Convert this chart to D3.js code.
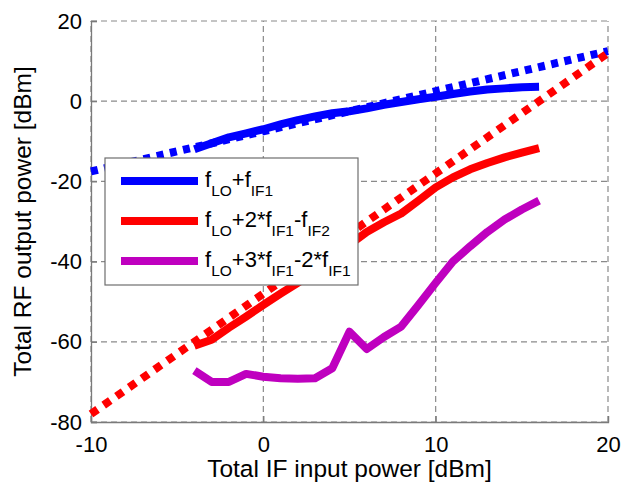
<!DOCTYPE html>
<html>
<head>
<meta charset="utf-8">
<script src="https://cdn.jsdelivr.net/npm/d3@7"></script>
<style>
  html, body { margin: 0; padding: 0; background: #fff; }
  svg { display: block; }
  text { font-family: "Liberation Sans", Arial, Helvetica, sans-serif; fill: #000; }
</style>
</head>
<body>
<svg id="chart" width="624" height="492"></svg>
<script>
// ---- data ----
const xTicks = [-10, 0, 10, 20];
const yTicks = [-80, -60, -40, -20, 0, 20];

const inputPower = [-4, -3, -2, -1, 0, 1, 2, 3, 4, 5, 6, 7, 8, 9, 10, 11, 12, 13, 14, 15, 16];
const fundamental = [-12, -10.5, -9, -8, -7, -5.8, -4.7, -3.8, -3, -2.5, -1.8, -0.9, -0.2, 0.5, 1.1, 1.8, 2.4, 2.9, 3.2, 3.5, 3.6];
const imd3 = [-61, -59.5, -56.5, -53.7, -50.8, -48, -45.3, -42.5, -39.3, -35.8, -32.6, -30.2, -28, -24.8, -21.5, -19, -17, -15.4, -14, -12.8, -11.7];
const imd5 = [-67.2, -70, -70, -68, -68.7, -69.1, -69.2, -69.1, -66.6, -57.5, -61.8, -58.8, -56.2, -50.8, -45.3, -40, -36.2, -32.6, -29.5, -27, -24.8];

const fitX = [-10, 20];
const fundamentalFit = [-17.5, 12.5];
const imd3Fit = [-78, 12];

const seriesNames = [
  [["f", ""], ["LO", "sub"], ["+f", ""], ["IF1", "sub"]],
  [["f", ""], ["LO", "sub"], ["+2*f", ""], ["IF1", "sub"], ["-f", ""], ["IF2", "sub"]],
  [["f", ""], ["LO", "sub"], ["+3*f", ""], ["IF1", "sub"], ["-2*f", ""], ["IF1", "sub"]]
];
const colors = ["#0000ff", "#ff0000", "#bf00bf"];

const xLabel = "Total IF input power [dBm]";
const yLabel = "Total RF output power [dBm]";

// ---- layout ----
const svg = d3.select("#chart");
const L = 91, R = 608, T = 21, B = 422;
const x = d3.scaleLinear().domain([-10, 20]).range([L, R]);
const y = d3.scaleLinear().domain([-80, 20]).range([B, T]);

// grid
const grid = svg.append("g").attr("stroke", "#8a8a8a").attr("stroke-width", 1.2)
  .attr("stroke-dasharray", "6,4").attr("fill", "none");
xTicks.forEach(t => grid.append("line").attr("x1", x(t)).attr("x2", x(t)).attr("y1", B).attr("y2", T));
yTicks.forEach(t => grid.append("line").attr("x1", L).attr("x2", R).attr("y1", y(t)).attr("y2", y(t)));

// axes (left & bottom), inward ticks
const fmt = d => String(d);
const xAxis = d3.axisBottom(x).tickValues(xTicks).tickSize(-6).tickPadding(14).tickFormat(fmt);
const yAxis = d3.axisLeft(y).tickValues(yTicks).tickSize(-6).tickPadding(9).tickFormat(fmt);
const gx = svg.append("g").attr("transform", `translate(0,${B})`).call(xAxis);
const gy = svg.append("g").attr("transform", `translate(${L},0)`).call(yAxis);
[gx, gy].forEach(g => {
  g.select(".domain").attr("stroke", "#7a7a7a").attr("stroke-width", 1.3);
  g.selectAll(".tick line").attr("stroke", "#7a7a7a").attr("stroke-width", 1.2);
  g.selectAll(".tick text").attr("font-size", 22).attr("font-family", "Liberation Sans, Arial, sans-serif").attr("fill", "#000");
});
gx.selectAll(".tick text").attr("dy", "0.71em");

// lines
const line = d3.line().x(d => x(d[0])).y(d => y(d[1]));
const plot = svg.append("g");
function drawSeries(xs, ys, color, dash) {
  plot.append("path")
    .datum(xs.map((v, i) => [v, ys[i]]))
    .attr("d", line)
    .attr("fill", "none")
    .attr("stroke", color)
    .attr("stroke-width", 8)
    .attr("stroke-linejoin", "round")
    .attr("stroke-dasharray", dash || null);
}
drawSeries(fitX, fundamentalFit, colors[0], "7,6.5");
drawSeries(fitX, imd3Fit, colors[1], "8,7.5");
drawSeries(inputPower, fundamental, colors[0]);
drawSeries(inputPower, imd3, colors[1]);
drawSeries(inputPower, imd5, colors[2]);

// legend
const lg = svg.append("g");
lg.append("rect").attr("x", 105).attr("y", 158).attr("width", 253).attr("height", 127)
  .attr("fill", "#fff").attr("stroke", "#6e6e6e").attr("stroke-width", 1.2);
seriesNames.forEach((parts, i) => {
  const cy = 181 + i * 40;
  lg.append("line").attr("x1", 121).attr("x2", 198).attr("y1", cy).attr("y2", cy)
    .attr("stroke", colors[i]).attr("stroke-width", 8);
  const t = lg.append("text").attr("x", 205).attr("y", cy + 6).attr("font-size", 22);
  let sub = false;
  parts.forEach(([s, kind]) => {
    const ts = t.append("tspan").text(s);
    if (kind === "sub" && !sub) { ts.attr("dy", 9).attr("font-size", 15.5); sub = true; }
    else if (kind === "sub") { ts.attr("font-size", 15.5); }
    else if (sub) { ts.attr("dy", -9); sub = false; }
  });
});

// axis labels
svg.append("text").attr("x", (L + R) / 2).attr("y", 477).attr("text-anchor", "middle")
  .attr("font-size", 24.5).text(xLabel);
svg.append("text").attr("transform", `translate(31,${(T + B) / 2}) rotate(-90)`)
  .attr("text-anchor", "middle").attr("font-size", 24.5).text(yLabel);
</script>
</body>
</html>
